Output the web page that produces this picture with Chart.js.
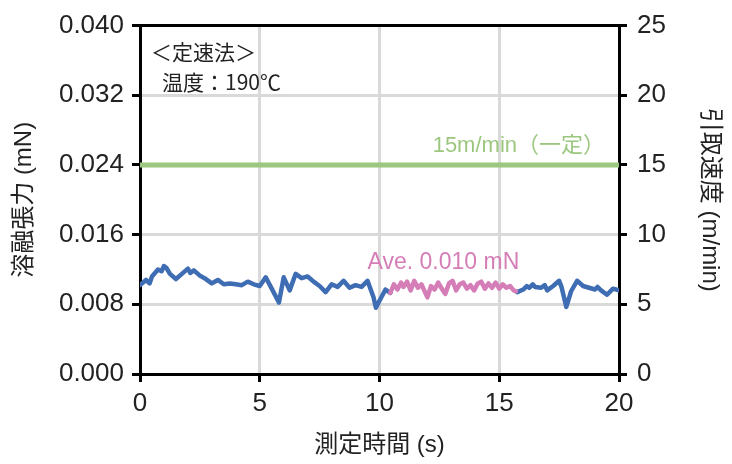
<!DOCTYPE html>
<html>
<head>
<meta charset="utf-8">
<script src="https://cdn.jsdelivr.net/npm/chart.js@4"></script>
<style>
  html, body { margin: 0; padding: 0; background: #fff; }
  #wrap { width: 732px; height: 464px; }
</style>
</head>
<body>
<div id="wrap"><canvas id="meltChart"></canvas></div>
<script>
// melt tension (mN) over time (s), blue part before and after the averaged window
const timeBlue = [0, 0.25, 0.4, 0.5, 0.75, 0.9, 1.0, 1.1, 1.25, 1.5, 1.75, 2.0, 2.1, 2.25, 2.5, 2.75, 3.0, 3.25, 3.5, 3.75, 4.0, 4.25, 4.5, 4.75, 5.0, 5.25, 5.5, 5.8, 6.0, 6.25, 6.5, 6.75, 7.0, 7.25, 7.5, 7.75, 8.0, 8.25, 8.5, 8.75, 9.0, 9.25, 9.5, 9.75, 9.85, 10.0, 10.25, 10.45,
  null,
  15.7, 15.75, 16.0, 16.15, 16.25, 16.4, 16.5, 16.75, 16.9, 17.0, 17.25, 17.5, 17.6, 17.8, 18.0, 18.25, 18.5, 18.75, 19.0, 19.1, 19.25, 19.5, 19.75, 20.0];
const tensionBlue = [0.0102, 0.0108, 0.0104, 0.0112, 0.0120, 0.0118, 0.0124, 0.0122, 0.0115, 0.0109, 0.0115, 0.0121, 0.0116, 0.0119, 0.0113, 0.0109, 0.0104, 0.0108, 0.0103, 0.0104, 0.0103, 0.0102, 0.0106, 0.0103, 0.0101, 0.0111, 0.0098, 0.0082, 0.0111, 0.0096, 0.0115, 0.0110, 0.0112, 0.0106, 0.0101, 0.0094, 0.0103, 0.0100, 0.0107, 0.0099, 0.0102, 0.0100, 0.0107, 0.0088, 0.0076, 0.0084, 0.0097, 0.0093,
  null,
  0.0095, 0.0094, 0.0097, 0.0101, 0.0099, 0.0103, 0.0100, 0.0099, 0.0102, 0.0096, 0.0101, 0.0107, 0.0100, 0.0077, 0.0095, 0.0107, 0.0101, 0.0099, 0.0097, 0.0100, 0.0096, 0.0091, 0.0098, 0.0096];

// averaged window (pink)
const timePink = [10.45, 10.6, 10.75, 10.9, 11.0, 11.15, 11.3, 11.45, 11.6, 11.75, 11.9, 12.0, 12.15, 12.3, 12.45, 12.6, 12.75, 12.9, 13.05, 13.2, 13.35, 13.5, 13.65, 13.8, 13.95, 14.1, 14.25, 14.4, 14.55, 14.7, 14.85, 15.0, 15.15, 15.3, 15.45, 15.6, 15.7];
const tensionPink = [0.0093, 0.0103, 0.0097, 0.0105, 0.0100, 0.0106, 0.0096, 0.0107, 0.0099, 0.0103, 0.0094, 0.0088, 0.0101, 0.0097, 0.0105, 0.0098, 0.0092, 0.0104, 0.0107, 0.0096, 0.0103, 0.0105, 0.0098, 0.0102, 0.0096, 0.0104, 0.0106, 0.0098, 0.0104, 0.0099, 0.0105, 0.0098, 0.0103, 0.0099, 0.0101, 0.0096, 0.0095];

// take-up speed (m/min), constant
const timeSpeed = [0, 20];
const speedValues = [15, 15];

const xTicks = [0, 5, 10, 15, 20];
const tensionTicks = [0, 0.008, 0.016, 0.024, 0.032, 0.040];
const speedTicks = [0, 5, 10, 15, 20, 25];

const FONT = '"Liberation Sans", "Noto Sans CJK JP", sans-serif';
const JP_FONT = '"Noto Sans CJK JP", sans-serif';

function toPoints(xs, ys) {
  return xs.map((x, i) => (x === null ? { x: NaN, y: null } : { x: x, y: ys[i] }));
}

// text labels inside the plot
const notes = {
  id: "notes",
  afterDatasetsDraw(chart) {
    const ctx = chart.ctx;
    const x = chart.scales.x;
    const y = chart.scales.y;
    const y2 = chart.scales.y2;
    ctx.save();
    ctx.textBaseline = "middle";

    ctx.fillStyle = "#222";
    ctx.font = "21px " + JP_FONT;
    ctx.textAlign = "left";
    ctx.fillText("＜定速法＞", x.getPixelForValue(0) + 11, y.getPixelForValue(0.040) + 26);
    ctx.font = "21px " + JP_FONT;
    ctx.fillText("温度：190℃", x.getPixelForValue(0) + 22, y.getPixelForValue(0.040) + 56);

    ctx.fillStyle = "#9cc77f";
    ctx.font = "22px " + FONT;
    ctx.textAlign = "right";
    ctx.fillText("15m/min（一定）", x.getPixelForValue(20) - 14, y2.getPixelForValue(15) - 19);

    ctx.fillStyle = "#d57db7";
    ctx.font = "23px " + FONT;
    ctx.textAlign = "left";
    ctx.fillText("Ave. 0.010 mN", x.getPixelForValue(9.5), y.getPixelForValue(0.0128));
    ctx.restore();
  }
};

const ctx = document.getElementById("meltChart").getContext("2d");
new Chart(ctx, {
  type: "line",
  data: {
    datasets: [
      {
        data: toPoints(timeSpeed, speedValues),
        yAxisID: "y2",
        borderColor: "#9cc77f",
        borderWidth: 5,
        pointRadius: 0,
        order: 3
      },
      {
        data: toPoints(timeBlue, tensionBlue),
        yAxisID: "y",
        borderColor: "#3f6db4",
        borderWidth: 4.5,
        pointRadius: 0,
        spanGaps: false,
        order: 2
      },
      {
        data: toPoints(timePink, tensionPink),
        yAxisID: "y",
        borderColor: "#d57db7",
        borderWidth: 4.5,
        pointRadius: 0,
        order: 1
      }
    ]
  },
  options: {
    responsive: true,
    maintainAspectRatio: false,
    animation: false,
    layout: { padding: { left: 0, right: 0, top: 24, bottom: 0 } },
    plugins: {
      legend: { display: false },
      tooltip: { enabled: false }
    },
    elements: { line: { tension: 0, borderJoinStyle: "round", borderCapStyle: "round" } },
    scales: {
      x: {
        type: "linear",
        min: 0,
        max: 20,
        afterBuildTicks: (s) => { s.ticks = xTicks.map(v => ({ value: v })); },
        afterFit: (s) => { s.height = 90; },
        grid: { color: "#d9d9d9", lineWidth: 3, tickColor: "#000", tickLength: 8, tickWidth: 3 },
        border: { color: "#000", width: 3 },
        ticks: { color: "#222", font: { family: FONT, size: 26 }, padding: 6, maxRotation: 0 },
        title: { display: true, text: "測定時間 (s)", color: "#222", font: { family: FONT, size: 24 }, padding: { top: 0 } }
      },
      y: {
        position: "left",
        min: 0,
        max: 0.040,
        afterBuildTicks: (s) => { s.ticks = tensionTicks.map(v => ({ value: v })); },
        afterFit: (s) => { s.width = 140; },
        grid: {
          color: (c) => (c.index === tensionTicks.length - 1 ? "#000" : "#d9d9d9"),
          lineWidth: 3,
          tickColor: "#000",
          tickLength: 8,
          tickWidth: 3
        },
        border: { color: "#000", width: 3 },
        ticks: { color: "#222", font: { family: FONT, size: 26 }, padding: 8, callback: (v) => v.toFixed(3) },
        title: { display: true, text: "溶融張力 (mN)", color: "#222", font: { family: FONT, size: 24 }, padding: { top: 10 } }
      },
      y2: {
        position: "right",
        min: 0,
        max: 25,
        afterBuildTicks: (s) => { s.ticks = speedTicks.map(v => ({ value: v })); },
        afterFit: (s) => { s.width = 113; },
        grid: { drawOnChartArea: false, tickColor: "#000", tickLength: 8, tickWidth: 3 },
        border: { color: "#000", width: 3 },
        ticks: { color: "#222", font: { family: FONT, size: 26 }, padding: 10 },
        title: { display: true, text: "引取速度 (m/min)", color: "#222", font: { family: FONT, size: 24 }, padding: { top: 8 } }
      }
    }
  },
  plugins: [notes]
});
</script>
</body>
</html>
